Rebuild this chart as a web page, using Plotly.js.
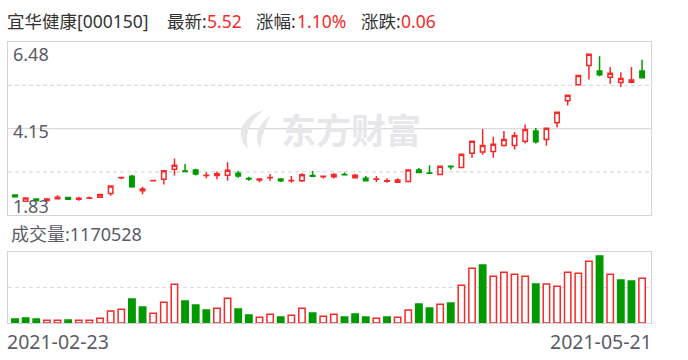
<!DOCTYPE html>
<html>
<head>
<meta charset="utf-8">
<script src="https://cdn.plot.ly/plotly-3.0.1.min.js"></script>
<style>
html,body{margin:0;padding:0;background:#fff;}
#chart{width:688px;height:360px;}
</style>
</head>
<body>
<div id="chart"></div>
<script>
// ---- data ----
const stockName = "宜华健康";
const stockCode = "000150";
const dates = [
  "2021-02-23","2021-02-24","2021-02-25","2021-02-26",
  "2021-03-01","2021-03-02","2021-03-03","2021-03-04","2021-03-05",
  "2021-03-08","2021-03-09","2021-03-10","2021-03-11","2021-03-12",
  "2021-03-15","2021-03-16","2021-03-17","2021-03-18","2021-03-19",
  "2021-03-22","2021-03-23","2021-03-24","2021-03-25","2021-03-26",
  "2021-03-29","2021-03-30","2021-03-31",
  "2021-04-01","2021-04-02",
  "2021-04-06","2021-04-07","2021-04-08","2021-04-09",
  "2021-04-12","2021-04-13","2021-04-14","2021-04-15","2021-04-16",
  "2021-04-19","2021-04-20","2021-04-21","2021-04-22","2021-04-23",
  "2021-04-26","2021-04-27","2021-04-28","2021-04-29","2021-04-30",
  "2021-05-06","2021-05-07",
  "2021-05-10","2021-05-11","2021-05-12","2021-05-13","2021-05-14",
  "2021-05-17","2021-05-18","2021-05-19","2021-05-20","2021-05-21"
];
const open  = [2.37,2.20,2.26,2.22,2.27,2.30,2.25,2.28,2.31,2.41,
               2.83,2.87,2.48,2.75,2.79,3.06,3.01,3.04,2.89,2.89,
               2.90,2.95,2.81,2.77,2.83,2.80,2.75,2.75,2.89,2.86,
               2.86,2.92,2.83,2.82,2.79,2.74,2.71,2.73,3.04,2.96,
               2.92,3.14,3.11,3.49,3.52,3.54,3.70,3.70,3.81,4.09,
               3.86,4.31,4.90,5.33,5.85,5.70,5.53,5.39,5.40,5.70];
const high  = [2.37,2.30,2.27,2.29,2.36,2.31,2.32,2.33,2.40,2.61,
               2.84,2.91,2.59,2.76,3.02,3.35,3.20,3.07,2.98,3.00,
               3.25,3.01,2.86,2.82,2.93,2.80,2.88,2.95,3.01,2.88,
               2.95,2.97,2.93,2.88,2.88,2.82,2.82,3.04,3.09,3.17,
               3.14,3.14,3.46,3.81,4.14,3.93,4.09,4.06,4.26,4.17,
               4.16,4.59,5.05,5.58,6.15,6.10,5.81,5.67,5.81,6.00];
const low   = [2.31,2.19,2.21,2.19,2.27,2.24,2.21,2.28,2.29,2.35,
               2.79,2.56,2.39,2.75,2.65,2.89,3.00,2.89,2.82,2.79,
               2.75,2.83,2.75,2.71,2.75,2.72,2.70,2.72,2.87,2.81,
               2.81,2.91,2.81,2.75,2.72,2.70,2.71,2.73,2.97,2.95,
               2.92,3.05,3.11,3.37,3.45,3.37,3.67,3.59,3.75,3.75,
               3.69,4.18,4.77,5.33,5.47,5.56,5.36,5.27,5.39,5.51];
const close = [2.32,2.29,2.22,2.26,2.31,2.25,2.28,2.29,2.38,2.61,
               2.84,2.59,2.53,2.76,3.02,3.17,3.00,2.93,2.90,2.94,
               3.03,2.88,2.80,2.80,2.84,2.75,2.76,2.91,2.87,2.87,
               2.92,2.91,2.90,2.75,2.80,2.75,2.77,3.04,2.97,2.95,
               3.14,3.13,3.46,3.81,3.70,3.73,3.86,3.97,4.13,3.80,
               4.16,4.59,5.05,5.58,6.15,5.60,5.64,5.50,5.46,5.52];
const volume = [105000,131000,105000,70000,70000,79000,70000,70000,122000,314000,
                358000,629000,419000,253000,541000,1013000,576000,472000,341000,384000,
                646000,367000,210000,148000,227000,157000,201000,384000,262000,175000,
                227000,157000,236000,157000,122000,157000,148000,341000,498000,393000,
                489000,524000,987000,1432000,1519000,1222000,1327000,1275000,1222000,1022000,
                1022000,960000,1327000,1301000,1615000,1755000,1275000,1126000,1100000,1170528];
const priceTicks = [6.48, 4.15, 1.83];
const priceTickLabels = ["6.48", "4.15", "1.83"];
const volumeMax = 1860000;

// ---- style ----
const W = 688, H = 360;
const RED = '#f42a2a', GREEN = '#009a00';
const GRID = '#dadadf', BORDER = '#d3d3da';
const TXT = '#333333', AX = '#5b5b66';
const WM = '#e7e7eb';
const FONT = "'Noto Sans', 'Noto Sans CJK SC', sans-serif";
const px = v => v / W, py = v => 1 - v / H;

const xDom = [px(8), px(651)];
const yDom = [py(215), py(42)];
const y2Dom = [py(323), py(252)];
const yRange = [Math.min(...priceTicks), Math.max(...priceTicks)];
const xRange = [-0.66, dates.length - 1 + 0.84];

const volUp = close.map((c, i) => i === 0 ? c >= open[i] : c >= close[i - 1]);

const candles = {
  type: 'candlestick', x: dates, open: open, high: high, low: low, close: close,
  xaxis: 'x', yaxis: 'y', hoverinfo: 'none', whiskerwidth: 0,
  increasing: {line: {color: RED, width: 1.5}, fillcolor: '#ffffff'},
  decreasing: {line: {color: GREEN, width: 1.5}, fillcolor: GREEN}
};
const bars = {
  type: 'bar', x: dates, y: volume, xaxis: 'x2', yaxis: 'y2', hoverinfo: 'none',
  marker: {color: volUp.map(u => u ? '#ffffff' : GREEN),
           line: {color: volUp.map(u => u ? RED : GREEN), width: 1.5}}
};

const baseX = {type: 'category', range: xRange, domain: xDom, showticklabels: false, showgrid: false,
  zeroline: false, showline: true, mirror: true, linecolor: BORDER, linewidth: 1, ticks: '',
  fixedrange: true, rangeslider: {visible: false}};
const baseY = {showticklabels: false, showgrid: false, zeroline: false, showline: true, mirror: true,
  linecolor: BORDER, linewidth: 1, ticks: '', fixedrange: true};

const shapes = [];
// price grid: solid at middle tick, dashed halfway between ticks
const midTick = priceTicks[1];
shapes.push({type: 'line', xref: 'paper', yref: 'y', x0: xDom[0], x1: xDom[1], y0: midTick, y1: midTick,
  line: {color: GRID, width: 1.2}, layer: 'below'});
[(yRange[0] + midTick) / 2, (yRange[1] + midTick) / 2].forEach(v => shapes.push({
  type: 'line', xref: 'paper', yref: 'y', x0: xDom[0], x1: xDom[1], y0: v, y1: v,
  line: {color: GRID, width: 1.2, dash: '4px,3px'}, layer: 'below'}));
// volume grid: dashed at half of axis
shapes.push({type: 'line', xref: 'paper', yref: 'y2', x0: xDom[0], x1: xDom[1], y0: volumeMax / 2, y1: volumeMax / 2,
  line: {color: GRID, width: 1.2, dash: '4px,3px'}, layer: 'below'});
// watermark logo (decoration)
const P = (x, y) => px(x).toFixed(4) + ',' + py(y).toFixed(4);
shapes.push({type: 'path', xref: 'paper', yref: 'paper', layer: 'below', line: {width: 0}, fillcolor: WM,
  path: 'M' + P(264, 110) + ' C' + P(243, 116) + ' ' + P(233, 134) + ' ' + P(248, 149) +
        ' C' + P(244, 134) + ' ' + P(250, 121) + ' ' + P(264, 110) + ' Z'});
shapes.push({type: 'path', xref: 'paper', yref: 'paper', layer: 'below', line: {width: 0}, fillcolor: WM,
  path: 'M' + P(271, 115) + ' C' + P(259, 123) + ' ' + P(253, 136) + ' ' + P(260, 148) +
        ' C' + P(262, 136) + ' ' + P(265, 126) + ' ' + P(271, 115) + ' Z'});

const n = close.length;
const last = close[n - 1], prev = close[n - 2];
const chg = last - prev;
const pct = chg / prev * 100;

function ann(text, x, y, opts) {
  return Object.assign({text: text, xref: 'paper', yref: 'paper', x: px(x), y: py(y),
    xanchor: 'left', yanchor: 'middle', showarrow: false, borderpad: 0, borderwidth: 0,
    font: {family: FONT, size: 17.5, color: TXT}}, opts || {});
}
const annotations = [
  ann(stockName + '[' + stockCode + ']', 7, 21),
  ann('最新:', 167, 21),
  ann(last.toFixed(2), 207, 21, {font: {family: FONT, size: 17.5, color: RED}}),
  ann('涨幅:', 256, 21),
  ann(pct.toFixed(2) + '%', 297, 21, {font: {family: FONT, size: 17.5, color: RED}}),
  ann('涨跌:', 361, 21),
  ann(chg.toFixed(2), 401, 21, {font: {family: FONT, size: 17.5, color: RED}}),
  ann('东方财富', 351, 130, {xanchor: 'center', font: {family: FONT, size: 35, color: WM, weight: 'bold'}}),
  ann('成交量:' + volume[n - 1], 11, 233.5, {font: {family: FONT, size: 18, color: AX}}),
  ann(dates[0], 7, 341, {font: {family: FONT, size: 19.5, color: AX}}),
  ann(dates[n - 1], 652, 341, {xanchor: 'right', font: {family: FONT, size: 19.5, color: AX}})
];
// price tick labels inside the plot
annotations.push({text: priceTickLabels[0], xref: 'paper', yref: 'y', x: px(11), y: priceTicks[0], yshift: -11.5,
  xanchor: 'left', yanchor: 'middle', showarrow: false, font: {family: FONT, size: 18, color: AX}});
annotations.push({text: priceTickLabels[1], xref: 'paper', yref: 'y', x: px(11), y: priceTicks[1], yshift: -2,
  xanchor: 'left', yanchor: 'middle', showarrow: false, font: {family: FONT, size: 18, color: AX}});
annotations.push({text: priceTickLabels[2], xref: 'paper', yref: 'y', x: px(11), y: priceTicks[2], yshift: 9,
  xanchor: 'left', yanchor: 'middle', showarrow: false, font: {family: FONT, size: 18, color: AX}});

const layout = {
  width: W, height: H, margin: {l: 0, r: 0, t: 0, b: 0},
  paper_bgcolor: '#ffffff', plot_bgcolor: '#ffffff', showlegend: false,
  boxgap: 0.4, bargap: 0.4, dragmode: false,
  xaxis: Object.assign({}, baseX, {anchor: 'y'}),
  yaxis: Object.assign({}, baseY, {domain: yDom, range: yRange, anchor: 'x'}),
  xaxis2: Object.assign({}, baseX, {anchor: 'y2'}),
  yaxis2: Object.assign({}, baseY, {domain: y2Dom, range: [0, volumeMax], anchor: 'x2'}),
  shapes: shapes, annotations: annotations
};

Plotly.newPlot('chart', [candles, bars], layout, {displayModeBar: false, staticPlot: true});
</script>
</body>
</html>
